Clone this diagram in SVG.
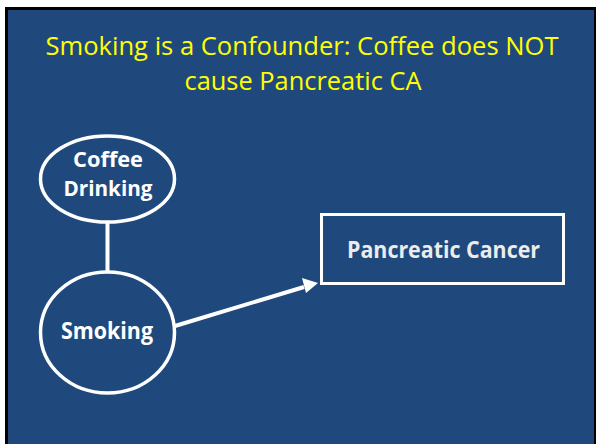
<svg xmlns="http://www.w3.org/2000/svg" width="596" height="444" viewBox="0 0 596 444">
<style>
.node{fill:none;stroke:#ffffff;stroke-width:3.5}
.lbl{font-family:"Open Sans","Liberation Sans",Arial,sans-serif;font-weight:bold;font-size:23px;fill:#ffffff;text-anchor:middle}
.sm{font-size:21px}
.title{font-family:"Open Sans","Liberation Sans",Arial,sans-serif;font-size:26px;fill:#ffff00;text-anchor:middle}
.conn{stroke:#ffffff;stroke-width:4;fill:none}
</style>
<rect x="0" y="0" width="596" height="444" fill="#ffffff"/>
<rect x="5" y="7" width="591" height="437" fill="#000000"/>
<rect x="8" y="10" width="586" height="434" fill="#1f497d"/>
<g id="title">
<text class="title" x="302" y="54.5" textLength="513" lengthAdjust="spacingAndGlyphs">Smoking is a Confounder: Coffee does NOT</text>
<text class="title" x="303" y="90" textLength="237" lengthAdjust="spacingAndGlyphs">cause Pancreatic CA</text>
</g>
<g id="connectors">
<line class="conn" x1="107.5" y1="222" x2="107.5" y2="272"/>
<line class="conn" x1="175" y1="326" x2="304" y2="287"/>
<path d="M318,283 L302,278 L306,293 z" fill="#ffffff"/>
</g>
<g id="coffee">
<ellipse class="node" cx="107.5" cy="179" rx="67" ry="43"/>
<text class="lbl sm" x="108" y="166.5" textLength="70" lengthAdjust="spacingAndGlyphs">Coffee</text>
<text class="lbl sm" x="108" y="195.5" textLength="89" lengthAdjust="spacingAndGlyphs">Drinking</text>
</g>
<g id="smoking">
<ellipse class="node" cx="107.5" cy="332.5" rx="67" ry="60.5"/>
<text class="lbl" x="107" y="339" textLength="92" lengthAdjust="spacingAndGlyphs">Smoking</text>
</g>
<g id="cancer">
<rect x="321.5" y="214.5" width="242" height="69" fill="none" stroke="#ffffff" stroke-width="3"/>
<text class="lbl" x="443.5" y="258" style="fill:#ececec" textLength="193" lengthAdjust="spacingAndGlyphs">Pancreatic Cancer</text>
</g>
</svg>
